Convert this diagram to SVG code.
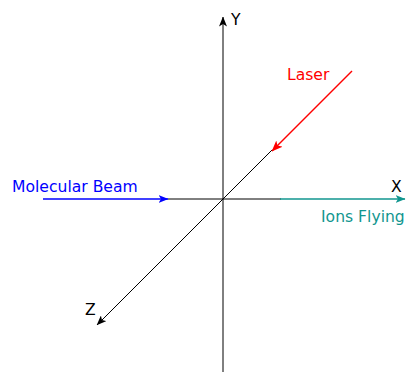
<svg xmlns="http://www.w3.org/2000/svg" width="408" height="372" viewBox="0 0 408 372">
<style>
text{font-family:"DejaVu Sans","Liberation Sans",sans-serif;font-size:15.6px}
.ax{stroke:#000;stroke-width:1;fill:none}
.blue{stroke:#0000ff;stroke-width:1.5;fill:none}
.red{stroke:#ff0000;stroke-width:1.5;fill:none}
.teal{stroke:#11968f;stroke-width:1.5;fill:none}
</style>
<defs>
<marker id="mk" viewBox="0 0 10 8" refX="9.5" refY="4" markerWidth="10" markerHeight="8" markerUnits="userSpaceOnUse" orient="auto"><path d="M0,0 L10,4 L0,8 L2.5,4 Z" fill="#000"/></marker>
<marker id="mb" viewBox="0 0 10 8" refX="9.5" refY="4" markerWidth="10" markerHeight="8" markerUnits="userSpaceOnUse" orient="auto"><path d="M0,0 L10,4 L0,8 L2.5,4 Z" fill="#0000ff"/></marker>
<marker id="mr" viewBox="0 0 10 8" refX="9.5" refY="4" markerWidth="11" markerHeight="9" markerUnits="userSpaceOnUse" orient="auto"><path d="M0,0 L10,4 L0,8 L2.5,4 Z" fill="#ff0000"/></marker>
<marker id="mt" viewBox="0 0 10 8" refX="9.5" refY="4" markerWidth="10" markerHeight="8" markerUnits="userSpaceOnUse" orient="auto"><path d="M0,0 L10,4 L0,8 L2.5,4 Z" fill="#11968f"/></marker>
</defs>
<g id="connectors">
<line class="ax" x1="223" y1="372" x2="223" y2="17" marker-end="url(#mk)"/>
<line class="ax" x1="168" y1="199" x2="281" y2="199"/>
<line class="ax" x1="272" y1="150" x2="97" y2="325" marker-end="url(#mk)"/>
<line class="blue" x1="43" y1="199" x2="168" y2="199" marker-end="url(#mb)"/>
<line class="teal" x1="280" y1="199" x2="405" y2="199" marker-end="url(#mt)"/>
<line class="red" x1="352" y1="71" x2="272" y2="151" marker-end="url(#mr)"/>
</g>
<g id="label-y"><text x="231" y="25">Y</text></g>
<g id="label-x"><text x="391" y="192">X</text></g>
<g id="label-z"><text x="85" y="315">Z</text></g>
<g id="label-laser"><text x="287" y="80" fill="#ff0000">Laser</text></g>
<g id="label-beam"><text x="12" y="192" fill="#0000ff">Molecular Beam</text></g>
<g id="label-ions"><text x="321" y="222" fill="#11968f">Ions Flying</text></g>
</svg>
